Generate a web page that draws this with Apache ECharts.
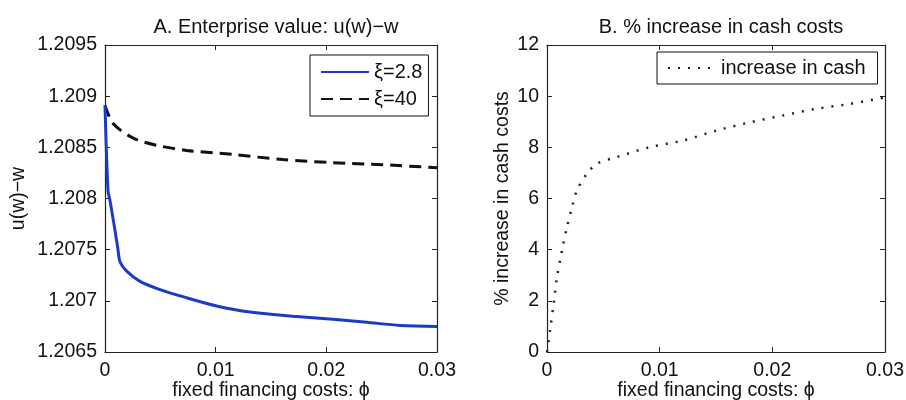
<!DOCTYPE html>
<html>
<head>
<meta charset="utf-8">
<script src="https://cdn.jsdelivr.net/npm/echarts@6/dist/echarts.min.js"></script>
<style>html,body{margin:0;padding:0;background:#fff}#c{width:906px;height:400px}</style>
</head>
<body>
<div id="c"></div>
<script>
// Panel A: enterprise value u(w)-w vs fixed financing costs phi
const phiA_xi28 = [0, 0.00027, 0.00045, 0.0007, 0.0009, 0.00115, 0.00136, 0.00196, 0.00316, 0.00497, 0.00738, 0.01009, 0.0131, 0.01699, 0.0206, 0.02365, 0.02666, 0.03];
const valA_xi28 = [1.20891, 1.20808, 1.20798, 1.20782, 1.20769, 1.20752, 1.20738, 1.20729, 1.20719, 1.20711, 1.20703, 1.20695, 1.20689, 1.20685, 1.20682, 1.20679, 1.20676, 1.20675];
const phiA_xi40 = [0, 0.00075, 0.00256, 0.00467, 0.00738, 0.01157, 0.01608, 0.0206, 0.02512, 0.03];
const valA_xi40 = [1.20891, 1.20873, 1.20859, 1.20852, 1.20847, 1.20843, 1.20838, 1.20835, 1.20833, 1.2083];
// Panel B: % increase in cash costs
const phiB = [0, 0.00029, 0.00059, 0.00089, 0.00133, 0.00177, 0.00222, 0.00266, 0.00355, 0.00443, 0.0062, 0.00916, 0.01211, 0.01508, 0.01803, 0.02098, 0.02394, 0.0269, 0.03];
const valB = [0, 0.91, 1.89, 2.93, 3.97, 4.88, 5.66, 6.32, 6.97, 7.36, 7.62, 8.01, 8.27, 8.66, 8.98, 9.25, 9.51, 9.70, 9.95];
const xTicks = [0, 0.01, 0.02, 0.03];
const yTicksA = [1.2065, 1.207, 1.2075, 1.208, 1.2085, 1.209, 1.2095];
const yTicksB = [0, 2, 4, 6, 8, 10, 12];
const titles = ['A. Enterprise value: u(w)\u2212w', 'B. % increase in cash costs'];
const seriesNames = ['\u03BE=2.8', '\u03BE=40', 'increase in cash'];
const xName = 'fixed financing costs: \u03D5';
const yNames = ['u(w)\u2212w', '% increase in cash costs'];

const FONT = 'Liberation Sans, Arial, DejaVu Sans, sans-serif';
const FS = 19.5;
const FT = 20;
const AX = '#222';
const zip = (a, b) => a.map((v, i) => [v, b[i]]);

function xAxisCfg(grid, top) {
  return {
    type: 'value', gridIndex: grid, position: top ? 'top' : 'bottom',
    min: xTicks[0], max: xTicks[xTicks.length - 1], interval: 0.01,
    name: top ? '' : xName, nameLocation: 'middle', nameGap: 29, nameMoveOverlap: false,
    nameTextStyle: { fontFamily: FONT, fontSize: FS, color: '#111' },
    axisLine: { show: true, onZero: false, lineStyle: { color: AX, width: 1.2 } },
    axisTick: { show: true, inside: true, length: 5, lineStyle: { color: AX } },
    axisLabel: { show: !top, margin: 9, fontFamily: FONT, fontSize: FS, color: '#111',
      formatter: v => String(+v.toFixed(4)) },
    splitLine: { show: false }
  };
}
function yAxisCfg(grid, right, ticks, step, name, gap) {
  return {
    type: 'value', gridIndex: grid, position: right ? 'right' : 'left',
    min: ticks[0], max: ticks[ticks.length - 1], interval: step,
    name: right ? '' : name, nameLocation: 'middle', nameGap: gap, nameMoveOverlap: false,
    nameTextStyle: { fontFamily: FONT, fontSize: FS, color: '#111' },
    axisLine: { show: true, onZero: false, lineStyle: { color: AX, width: 1.2 } },
    axisTick: { show: true, inside: true, length: 5, lineStyle: { color: AX } },
    axisLabel: { show: !right, margin: 8, fontFamily: FONT, fontSize: FS, color: '#111',
      formatter: v => String(+v.toFixed(4)) },
    splitLine: { show: false }
  };
}

const chart = echarts.init(document.getElementById('c'), null, { renderer: 'canvas' });
chart.setOption({
  backgroundColor: '#fff',
  animation: false,
  title: [
    { text: titles[0], left: 271, top: 12, textAlign: 'center',
      textStyle: { fontFamily: FONT, fontSize: FT, fontWeight: 'normal', color: '#111' } },
    { text: titles[1], left: 716, top: 12, textAlign: 'center',
      textStyle: { fontFamily: FONT, fontSize: FT, fontWeight: 'normal', color: '#111' } }
  ],
  grid: [
    { left: 105, top: 45, width: 332, height: 307, containLabel: false, outerBoundsMode: 'none' },
    { left: 547, top: 45, width: 338, height: 307, containLabel: false, outerBoundsMode: 'none' }
  ],
  legend: [
    { data: [seriesNames[0], seriesNames[1]], orient: 'vertical', left: 310, top: 55,
      itemWidth: 48, itemHeight: 14, itemGap: 7, padding: [7, 6, 7, 10],
      itemStyle: { opacity: 0 },
      backgroundColor: '#fff', borderColor: '#111', borderWidth: 1, borderRadius: 0,
      textStyle: { fontFamily: FONT, fontSize: FT, color: '#111' } },
    { data: [seriesNames[2]], orient: 'vertical', left: 657, top: 52,
      itemWidth: 48, itemHeight: 14, padding: [6, 12, 6, 10],
      itemStyle: { opacity: 0 },
      backgroundColor: '#fff', borderColor: '#111', borderWidth: 1, borderRadius: 0,
      textStyle: { fontFamily: FONT, fontSize: FT, color: '#111' } }
  ],
  xAxis: [xAxisCfg(0, false), xAxisCfg(0, true), xAxisCfg(1, false), xAxisCfg(1, true)],
  yAxis: [
    yAxisCfg(0, false, yTicksA, 0.0005, yNames[0], 76),
    yAxisCfg(0, true, yTicksA, 0.0005, '', 0),
    yAxisCfg(1, false, yTicksB, 2, yNames[1], 34),
    yAxisCfg(1, true, yTicksB, 2, '', 0)
  ],
  series: [
    { name: seriesNames[0], type: 'line', xAxisIndex: 0, yAxisIndex: 0,
      data: zip(phiA_xi28, valA_xi28), showSymbol: false, symbol: 'none', smooth: 0.3,
      lineStyle: { color: '#1b3cc2', width: 3 }, itemStyle: { color: '#1b3cc2' }, z: 3 },
    { name: seriesNames[1], type: 'line', xAxisIndex: 0, yAxisIndex: 0,
      data: zip(phiA_xi40, valA_xi40), showSymbol: false, symbol: 'none', smooth: 0.3,
      lineStyle: { color: '#111', width: 3, type: [12, 7] }, itemStyle: { color: '#111' }, z: 2 },
    { name: seriesNames[2], type: 'line', xAxisIndex: 2, yAxisIndex: 2,
      data: zip(phiB, valB), showSymbol: false, symbol: 'none', smooth: 0.3,
      lineStyle: { color: '#222', width: 2.5, type: [2, 8] }, itemStyle: { color: '#222' } }
  ]
});
</script>
</body>
</html>
